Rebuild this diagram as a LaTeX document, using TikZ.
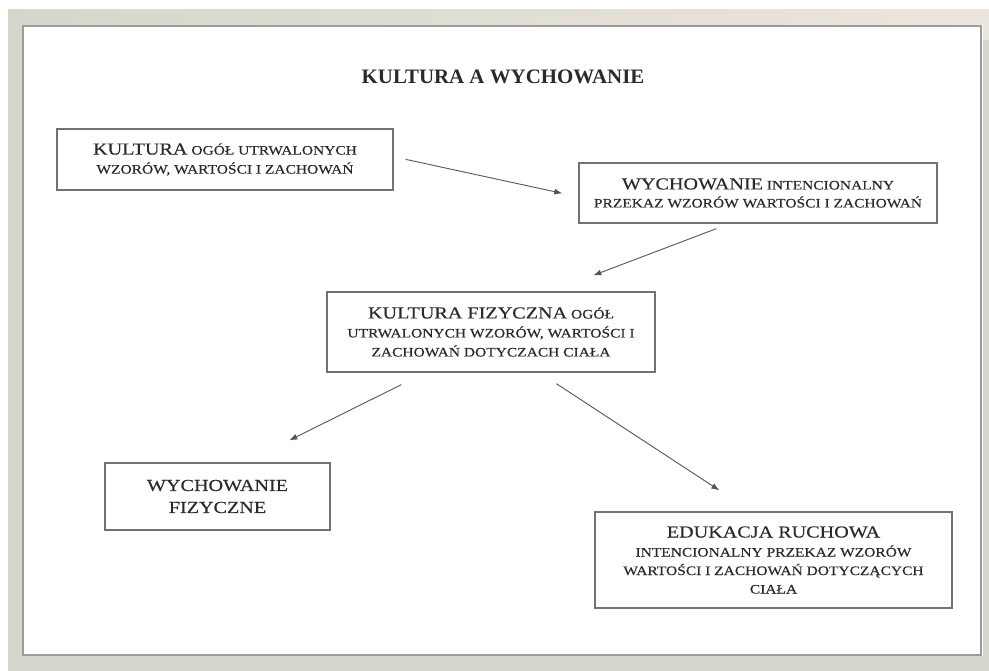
\documentclass[tikz,border=0pt]{standalone}
\usepackage{fontspec}
\setmainfont[FakeStretch=1.2,FakeBold=0.25]{Liberation Serif}
\newfontfamily\titlefont[FakeStretch=1.02]{Liberation Serif}
\usetikzlibrary{arrows.meta,calc}
\definecolor{bggray}{HTML}{D6D7CC}
\definecolor{bgbeige}{HTML}{ECE5DD}
\definecolor{framegray}{HTML}{9C9C98}
\definecolor{boxgray}{HTML}{727272}
\definecolor{arrgray}{HTML}{555555}
\definecolor{txt}{HTML}{2A2A2A}
\newcommand{\bigw}[1]{{\fontsize{16.8}{20}\selectfont #1}}
\tikzset{
  box/.style={draw=boxgray, line width=1.3pt, fill=white, inner sep=0pt, align=center, text=txt,
    font=\fontsize{12.9}{20}\selectfont},
  conn/.style={draw=arrgray, line width=0.9pt, -{Latex[length=8pt,width=6pt]}}
}
\begin{document}
\begin{tikzpicture}[x=1pt,y=-1pt]
\useasboundingbox (0,0) rectangle (989,671);
\fill[white] (0,0) rectangle (989,671);
\shade[left color=bggray, right color=bgbeige] (8,10) rectangle (989,40);
\fill[bggray] (8,40) rectangle (989,671);
\fill[bggray] (8,10) rectangle (24,671);
\fill[white] (22,25) rectangle (983,656);
\draw[framegray, line width=1.5pt] (23,26) rectangle (981,655);

\node[text=txt, font=\titlefont\bfseries\fontsize{20.5}{22}\selectfont] (title) at (503,77) {KULTURA A WYCHOWANIE};

\node[box, minimum width=336pt, minimum height=61pt] (k1) at (225,159.5)
  {\bigw{KULTURA} OGÓŁ UTRWALONYCH\\[-1pt] WZORÓW, WARTOŚCI I ZACHOWAŃ};
\node[box, minimum width=358pt, minimum height=60pt] (w1) at (758,193)
  {\bigw{WYCHOWANIE} INTENCIONALNY\\[-2pt] PRZEKAZ WZORÓW WARTOŚCI I ZACHOWAŃ};
\node[box, minimum width=328pt, minimum height=80pt] (kf) at (491,332)
  {\bigw{KULTURA FIZYCZNA} OGÓŁ\\[-1pt] UTRWALONYCH WZORÓW, WARTOŚCI I\\[-1pt] ZACHOWAŃ DOTYCZACH CIAŁA};
\node[box, minimum width=225pt, minimum height=67pt, font=\fontsize{16.8}{22}\selectfont] (wf) at (217.5,496.5)
  {WYCHOWANIE\\ FIZYCZNE};
\node[box, minimum width=357pt, minimum height=96pt] (er) at (773.5,560)
  {\bigw{EDUKACJA RUCHOWA}\\[-1pt] INTENCIONALNY PRZEKAZ WZORÓW\\[-1.5pt] WARTOŚCI I ZACHOWAŃ DOTYCZĄCYCH\\[-1.5pt] CIAŁA};

\coordinate (a1s) at ($(k1.north east)+(12,31)$);
\coordinate (a1e) at ($(w1.north west)+(-16,31)$);
\coordinate (a2s) at ($(w1.south west)+(138,5)$);
\coordinate (a2e) at ($(kf.north west)+(267,-16)$);
\coordinate (a3s) at ($(kf.south west)+(75,12)$);
\coordinate (a3e) at ($(wf.north west)+(185,-22)$);
\coordinate (a4s) at ($(kf.south west)+(230,11)$);
\coordinate (a4e) at ($(er.north west)+(125,-21)$);
\draw[conn] (a1s) -- (a1e);
\draw[conn] (a2s) -- (a2e);
\draw[conn] (a3s) -- (a3e);
\draw[conn] (a4s) -- (a4e);
\end{tikzpicture}
\end{document}
